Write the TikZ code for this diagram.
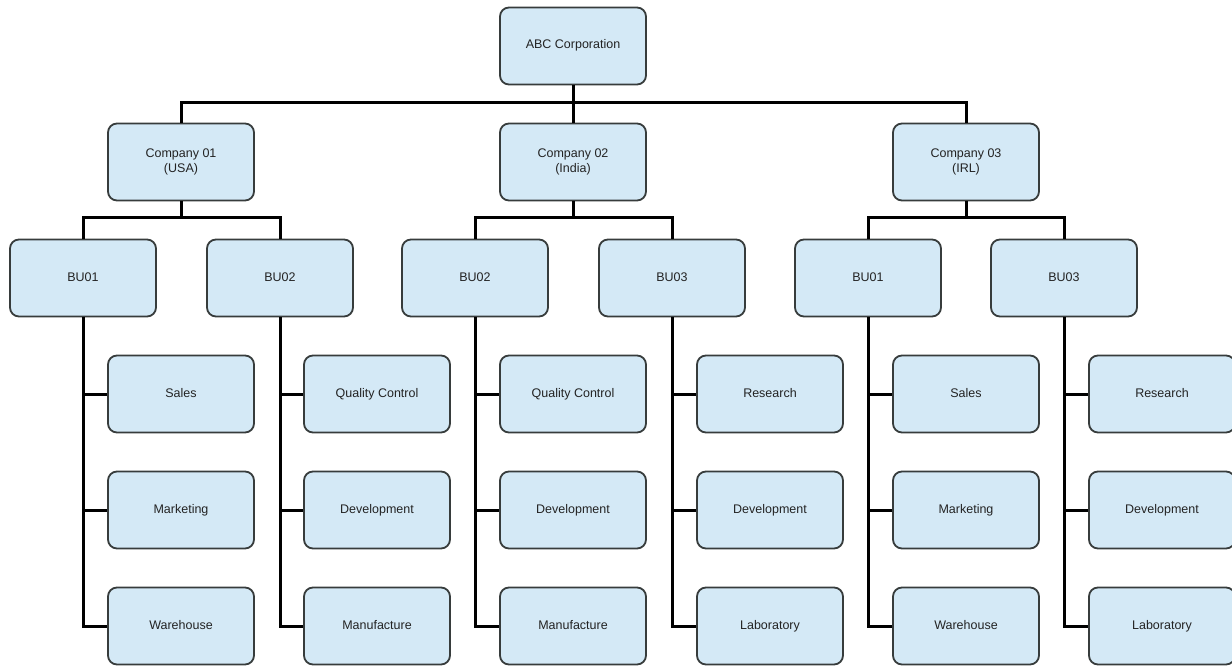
\documentclass[tikz,border=0pt]{standalone}
\usepackage{fontspec}
\setmainfont{Liberation Sans}
\definecolor{boxfill}{RGB}{212,233,246}
\definecolor{boxdraw}{RGB}{55,60,60}
\definecolor{txt}{RGB}{35,35,35}
\tikzset{
  basebox/.style={draw=boxdraw, line width=1.8pt, fill=boxfill, rounded corners=9pt,
    minimum width=146pt, minimum height=77pt, inner sep=2pt, align=center,
    text=txt, font=\fontsize{12.5}{14.5}\selectfont},
  orgbox/.style={basebox, text height=9pt, text depth=3pt},
  twobox/.style={basebox},
  link/.style={draw=black, line width=3pt}
}
\begin{document}
\begin{tikzpicture}[x=1pt,y=-1pt]
\useasboundingbox (0,0) rectangle (1232,666);
\fill[white] (0,0) rectangle (1232,666);
% top
\node[orgbox] (abc) at (573,46) {ABC Corporation};
% companies
\node[twobox] (c1) at (181,162) {Company 01\\(USA)};
\node[twobox] (c2) at (573,162) {Company 02\\(India)};
\node[twobox] (c3) at (966,162) {Company 03\\(IRL)};
% BUs
\node[orgbox] (b11) at (83,278) {BU01};
\node[orgbox] (b12) at (280,278) {BU02};
\node[orgbox] (b22) at (475,278) {BU02};
\node[orgbox] (b23) at (672,278) {BU03};
\node[orgbox] (b31) at (868,278) {BU01};
\node[orgbox] (b33) at (1064,278) {BU03};
% children
\node[orgbox] (s1) at (181,394) {Sales};
\node[orgbox] (m1) at (181,510) {Marketing};
\node[orgbox] (w1) at (181,626) {Warehouse};
\node[orgbox] (q2) at (377,394) {Quality Control};
\node[orgbox] (d2) at (377,510) {Development};
\node[orgbox] (f2) at (377,626) {Manufacture};
\node[orgbox] (q3) at (573,394) {Quality Control};
\node[orgbox] (d3) at (573,510) {Development};
\node[orgbox] (f3) at (573,626) {Manufacture};
\node[orgbox] (r4) at (770,394) {Research};
\node[orgbox] (d4) at (770,510) {Development};
\node[orgbox] (l4) at (770,626) {Laboratory};
\node[orgbox] (s5) at (966,394) {Sales};
\node[orgbox] (m5) at (966,510) {Marketing};
\node[orgbox] (w5) at (966,626) {Warehouse};
\node[orgbox] (r6) at (1162,394) {Research};
\node[orgbox] (d6) at (1162,510) {Development};
\node[orgbox] (l6) at (1162,626) {Laboratory};
% connectors
\draw[link] (abc.south) -- (c2.north);
\draw[link] (c1.north) -- ++(0,-20) -| (c3.north);
\foreach \c/\l/\r in {c1/b11/b12, c2/b22/b23, c3/b31/b33}{
  \draw[link] (\c.south) -- ++(0,18);
  \draw[link] (\l.north) -- ++(0,-21) -| (\r.north);
}
\foreach \b/\x/\y/\z in {b11/s1/m1/w1, b12/q2/d2/f2, b22/q3/d3/f3, b23/r4/d4/l4, b31/s5/m5/w5, b33/r6/d6/l6}{
  \draw[link] (\b.south) |- (\x.west);
  \draw[link] (\b.south) |- (\y.west);
  \draw[link] (\b.south) |- (\z.west);
}
\end{tikzpicture}
\end{document}
